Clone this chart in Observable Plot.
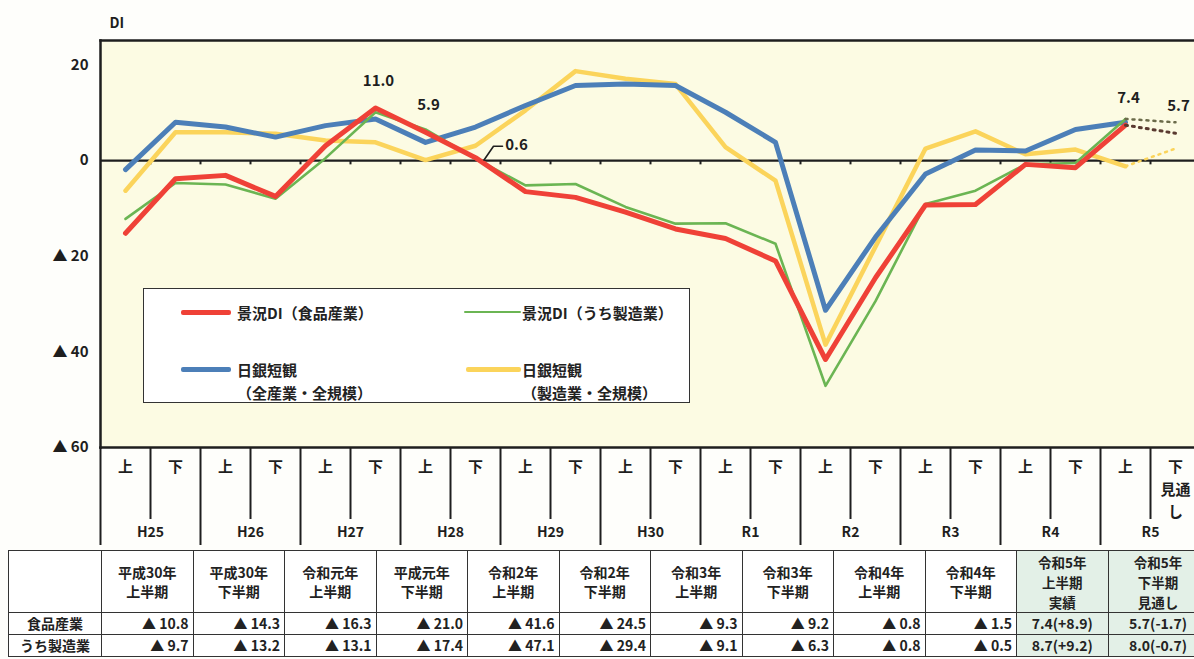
<!DOCTYPE html>
<html>
<head>
<meta charset="utf-8">
<script src="https://cdn.jsdelivr.net/npm/d3@7"></script>
<script src="https://cdn.jsdelivr.net/npm/@observablehq/plot@0.6"></script>
<style>
  html, body { margin: 0; padding: 0; background: #fefefb; }
  #wrap { position: relative; width: 1194px; height: 659px; overflow: hidden;
          font-family: "Noto Sans CJK JP", "Noto Sans", sans-serif; color: #222; }
  #chart { position: absolute; left: 0; top: 0; }
  .legend { position: absolute; left: 143px; top: 288px; width: 547px; height: 115px;
            box-sizing: border-box; border: 1.5px solid #333; background: #fff; }
  .legend .item { position: absolute; font-size: 15px; font-weight: bold; line-height: 23px; white-space: pre; }
  .legend .swatch { position: absolute; border-radius: 2px; }
  table.summary { position: absolute; left: 8px; top: 550px; border-collapse: collapse;
                  table-layout: fixed; font-size: 14px; font-weight: bold; background: #fff; }
  table.summary td { border: 1.5px solid #333; padding: 0; overflow: hidden; white-space: nowrap; }
  table.summary tr.head td { height: 61px; text-align: center; line-height: 19px; white-space: pre; }
  table.summary tr.row td { height: 21px; text-align: right; padding-right: 4px; line-height: 21px; }
  table.summary tr.row td.name { text-align: center; padding-right: 0; }
  table.summary td.outlook { background: #e3f0e7; }
  table.summary tr.row td.outlook { text-align: center; padding-right: 0; }
  table.summary tr.head td.outlook { line-height: 20px; font-size: 13.5px; }
</style>
</head>
<body>
<div id="wrap">
  <div id="chart"></div>
  <div class="legend" id="legend"></div>
</div>
<script>
// Half-year periods on the horizontal axis
const years = ["H25", "H26", "H27", "H28", "H29", "H30", "R1", "R2", "R3", "R4", "R5"];
const halves = ["上", "下"];
const outlookNote = ["見通", "し"];

// 景況DI（食品産業）and 景況DI（うち製造業）; the last value of each is the outlook
const foodDI = [-15.2, -3.8, -3.1, -7.5, 3.1, 11.0, 5.9, 0.6, -6.5, -7.7,
                -10.8, -14.3, -16.3, -21.0, -41.6, -24.5, -9.3, -9.2, -0.8, -1.5, 7.4, 5.7];
const mfgDI = [-12.2, -4.7, -5.0, -8.0, 0.5, 10.1, 6.5, 0.4, -5.2, -4.9,
               -9.7, -13.2, -13.1, -17.4, -47.1, -29.4, -9.1, -6.3, -0.8, -0.5, 8.7, 8.0];
// 日銀短観（全産業・全規模）and 日銀短観（製造業・全規模）
const tankanAll = [-1.9, 8.0, 7.0, 4.9, 7.3, 8.7, 3.8, 7.0, 11.5, 15.7,
                   16.0, 15.7, 10.1, 3.8, -31.3, -16.0, -2.8, 2.2, 2.0, 6.5, 8.0];
const tankanMfg = [-6.3, 5.9, 5.9, 5.6, 4.2, 3.8, 0.1, 3.1, 10.5, 18.7,
                   17.1, 16.0, 2.8, -4.2, -38.5, -18.0, 2.5, 6.1, 1.3, 2.3, -1.2, 2.5];

// Vertical axis ticks
const yTicks = [20, 0, -20, -40, -60];
// Food-industry values printed next to the line
const printedAbove = [5, 6, 20, 21];
const printedSide = [7];

// Summary table below the chart
const tableHeads = ["平成30年\n上半期", "平成30年\n下半期", "令和元年\n上半期", "平成元年\n下半期",
                    "令和2年\n上半期", "令和2年\n下半期", "令和3年\n上半期", "令和3年\n下半期",
                    "令和4年\n上半期", "令和4年\n下半期", "令和5年\n上半期\n実績", "令和5年\n下半期\n見通し"];
const tableRows = ["食品産業", "うち製造業"];
const tableFirst = 10;   // first period shown in the table (平成30年上半期)

const colors = { food: "#ef4137", mfg: "#6bb553", all: "#4c7fb8", mfgBoj: "#fbd45b" };

const N = years.length * 2;
const last = N - 1;
const cx = i => i + 0.5;
const actual = d3.range(0, last);        // observed periods
const outlook = [last - 1, last];        // outlook segment

const halfLabel = v => {
  const i = Math.floor(v);
  return i === last ? [halves[i % 2], ...outlookNote].join("\n") : halves[i % 2];
};
const fmtTick = d => d < 0 ? `▲ ${-d}` : `${d}`;

const chart = Plot.plot({
  width: 1194,
  height: 548,
  marginTop: 40,
  marginLeft: 100,
  marginRight: -6,
  marginBottom: 101,
  x: { domain: [0, N], axis: null, label: null },
  y: { domain: [-60, 25.1], axis: null, label: null },
  style: { fontFamily: '"Noto Sans CJK JP", "Noto Sans", sans-serif', color: "#1e1e1e", background: "transparent" },
  marks: [
    Plot.frame({ fill: "#fcfbe3", stroke: null }),
    // period grid below the plot
    Plot.axisX(d3.range(0, N + 1, 2), { anchor: "bottom", tickSize: 98, strokeWidth: 2, tickFormat: () => "", label: null }),
    Plot.axisX(d3.range(1, N, 2), { anchor: "bottom", tickSize: 72, strokeWidth: 2, tickFormat: () => "", label: null }),
    Plot.axisX(d3.range(N).map(cx), { anchor: "bottom", tickSize: 0, tickPadding: 9, tickFormat: halfLabel,
      fontSize: 15, fontWeight: "bold", lineHeight: 1.5, label: null }),
    Plot.axisX(d3.range(1, N, 2), { anchor: "bottom", tickSize: 0, tickPadding: 80,
      tickFormat: v => years[(v - 1) / 2], fontSize: 14, fontWeight: "bold", label: null }),
    Plot.axisY(yTicks, { anchor: "left", tickSize: 0, tickPadding: 12, tickFormat: fmtTick,
      fontSize: 15, fontWeight: "bold", label: null }),
    Plot.text(["DI"], { frameAnchor: "top-left", dx: 9, dy: -22, textAnchor: "start", fontSize: 14, fontWeight: "bold" }),
    // zero line with period ticks
    Plot.ruleY([0], { stroke: "#1e1e1e", strokeWidth: 2.2 }),
    Plot.ruleX(d3.range(1, N), { x: d => d, y1: 0, y2: -0.9, stroke: "#1e1e1e", strokeWidth: 2 }),
    // series
    Plot.line(actual.filter(i => tankanMfg[i] != null), { x: cx, y: i => tankanMfg[i], stroke: colors.mfgBoj, strokeWidth: 4.5 }),
    Plot.line(outlook, { x: cx, y: i => tankanMfg[i], stroke: colors.mfgBoj, strokeWidth: 2.5, strokeDasharray: "2,5" }),
    Plot.line(actual, { x: cx, y: i => tankanAll[i], stroke: colors.all, strokeWidth: 5 }),
    Plot.line(actual, { x: cx, y: i => mfgDI[i], stroke: colors.mfg, strokeWidth: 2.6 }),
    Plot.line(actual, { x: cx, y: i => foodDI[i], stroke: colors.food, strokeWidth: 5 }),
    Plot.line(outlook, { x: cx, y: i => mfgDI[i], stroke: "#6b6b4a", strokeWidth: 2.5, strokeDasharray: "2,5" }),
    Plot.line(outlook, { x: cx, y: i => foodDI[i], stroke: "#5a3a30", strokeWidth: 3, strokeDasharray: "2,5" }),
    // printed values
    Plot.text(printedAbove, { x: cx, y: i => foodDI[i], text: i => foodDI[i].toFixed(1), dy: -27, dx: 3,
      fontSize: 15, fontWeight: "bold" }),
    Plot.text(printedSide, { x: cx, y: i => foodDI[i], text: i => foodDI[i].toFixed(1), dx: 41, dy: -12,
      fontSize: 15, fontWeight: "bold" }),
    Plot.line(printedSide.flatMap(i => [
      { x: cx(i) + 0.17, y: foodDI[i] - 0.5 },
      { x: cx(i) + 0.36, y: foodDI[i] + 2.4 },
      { x: cx(i) + 0.54, y: foodDI[i] + 2.4 }
    ]), { x: "x", y: "y", stroke: "#1e1e1e", strokeWidth: 1.6 }),
    // plot border (left, top, bottom)
    Plot.frame({ anchor: "left", stroke: "#1e1e1e", strokeWidth: 2.5 }),
    Plot.frame({ anchor: "top", stroke: "#1e1e1e", strokeWidth: 2.5 }),
    Plot.frame({ anchor: "bottom", stroke: "#1e1e1e", strokeWidth: 2.5 })
  ]
});
document.getElementById("chart").append(chart);

// Legend
const legendItems = [
  { color: colors.food, width: 5, x: 37, sw: 50, tx: 93, y: 23, text: "景況DI（食品産業）" },
  { color: colors.mfg, width: 2, x: 320, sw: 57, tx: 378, y: 23, text: "景況DI（うち製造業）" },
  { color: colors.all, width: 5, x: 37, sw: 50, tx: 93, y: 80, text: "日銀短観\n（全産業・全規模）" },
  { color: colors.mfgBoj, width: 5, x: 322, sw: 55, tx: 378, y: 80, text: "日銀短観\n（製造業・全規模）" }
];
const legend = document.getElementById("legend");
for (const it of legendItems) {
  const s = document.createElement("div");
  s.className = "swatch";
  Object.assign(s.style, { left: it.x + "px", top: (it.y - it.width / 2) + "px", width: it.sw + "px",
    height: it.width + "px", background: it.color });
  legend.append(s);
  const t = document.createElement("div");
  t.className = "item";
  Object.assign(t.style, { left: it.tx + "px", top: (it.y - 11.5) + "px" });
  t.textContent = it.text;
  legend.append(t);
}

// Summary table, values taken from the same series as the lines
const fmtVal = v => v < 0 ? `▲ ${(-v).toFixed(1)}` : v.toFixed(1);
const fmtChg = c => c >= 0 ? `+${c.toFixed(1)}` : `-${(-c).toFixed(1)}`;
const table = document.createElement("table");
table.className = "summary";
const colWidths = [93, ...tableHeads.map((h, k) => k === tableHeads.length - 1 ? 100 : 91.5)];
table.style.width = d3.sum(colWidths) + "px";
const colgroup = document.createElement("colgroup");
colWidths.forEach(w => {
  const c = document.createElement("col"); c.style.width = w + "px"; colgroup.append(c);
});
table.append(colgroup);
const head = table.insertRow(); head.className = "head";
head.insertCell().textContent = "";
tableHeads.forEach((h, k) => {
  const c = head.insertCell(); c.textContent = h;
  if (k >= tableHeads.length - 2) c.className = "outlook";
});
[foodDI, mfgDI].forEach((series, r) => {
  const row = table.insertRow(); row.className = "row";
  const n = row.insertCell(); n.className = "name"; n.textContent = tableRows[r];
  tableHeads.forEach((h, k) => {
    const i = tableFirst + k;
    const c = row.insertCell();
    if (k >= tableHeads.length - 2) {
      c.className = "outlook";
      c.textContent = `${fmtVal(series[i])}(${fmtChg(+(series[i] - series[i - 1]).toFixed(1))})`;
    } else {
      c.textContent = fmtVal(series[i]);
    }
  });
});
document.getElementById("wrap").append(table);
</script>
</body>
</html>
